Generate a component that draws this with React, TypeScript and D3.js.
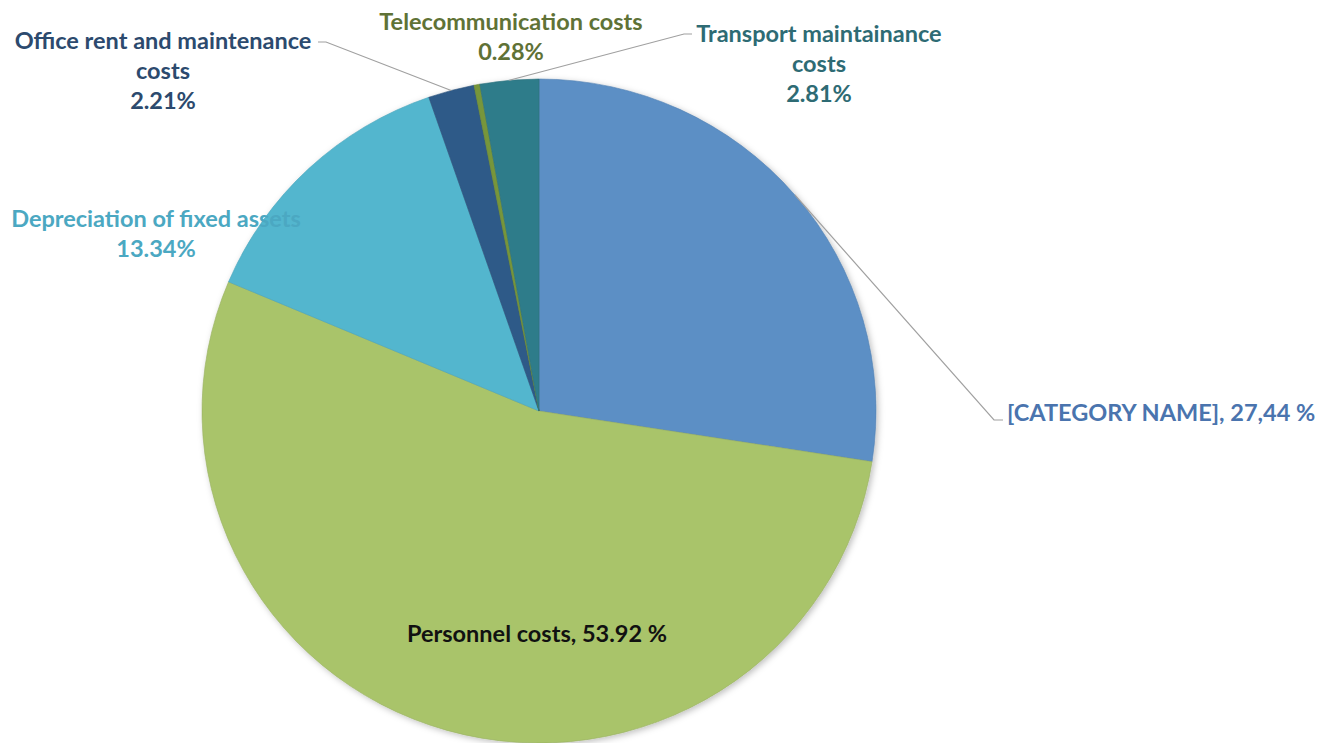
import React, { useEffect } from "react";
import * as d3 from "d3";

// slice data, clockwise from 12 o'clock
const categories = [
  "[CATEGORY NAME]",
  "Personnel costs",
  "Depreciation of fixed assets",
  "Office rent and maintenance costs",
  "Telecommunication costs",
  "Transport maintainance costs",
];
const shares = [27.44, 53.92, 13.34, 2.21, 0.28, 2.81];
const shareLabels = ["27,44 %", "53.92 %", "13.34%", "2.21%", "0.28%", "2.81%"];

const sliceColors = ["#5B8FC5", "#A9C46B", "#53B6CE", "#2F5A88", "#77963A", "#2F7C8A"];
const textColors = ["#4A74AE", "#111111", "#4BA8C2", "#2C4A6E", "#5F7236", "#2E6B74"];

const W = 1327;
const H = 743;
const cx = 539;
const cy = 411;
const rx = 337;
const ry = 332;

// label blocks: lines of text, anchor x, first baseline, optional leader end
type LabelSpec = { lines: string[]; x: number; y: number; anchor: string; leader?: [number, number][] };

const labelSpecs = (): LabelSpec[] => [
  {
    lines: [categories[0] + ", " + shareLabels[0]],
    x: 1007,
    y: 421,
    anchor: "start",
    leader: [[1003, 420], [994, 420]],
  },
  { lines: [categories[1] + ", " + shareLabels[1]], x: 537, y: 642, anchor: "middle" },
  { lines: ["Depreciation of fixed assets", shareLabels[2]], x: 156, y: 227, anchor: "middle" },
  {
    lines: ["Office rent and maintenance", "costs", shareLabels[3]],
    x: 163,
    y: 49,
    anchor: "middle",
    leader: [[318, 42], [326, 42]],
  },
  { lines: ["Telecommunication costs", shareLabels[4]], x: 511, y: 30, anchor: "middle" },
  {
    lines: ["Transport maintainance", "costs", shareLabels[5]],
    x: 819,
    y: 42,
    anchor: "middle",
    leader: [[692, 34], [684, 34]],
  },
];

const App = () => {
  useEffect(() => {
    document.body.style.margin = "0";
  }, []);

  const pie = d3.pie<number>().sort(null).value((d) => d);
  const arcs = pie(shares);
  const arc = d3.arc<d3.PieArcDatum<number>>().innerRadius(0).outerRadius(rx);
  const specs = labelSpecs();

  // point on the (slightly squashed) pie edge at a slice's mid angle
  const edgePoint = (a: d3.PieArcDatum<number>) => {
    const m = (a.startAngle + a.endAngle) / 2;
    return [cx + rx * Math.sin(m), cy - ry * Math.cos(m)];
  };

  return (
    <svg width={W} height={H} style={{ display: "block", background: "#fff" }}>
      <defs>
        <filter id="shadow" x="-10%" y="-10%" width="120%" height="120%">
          <feDropShadow dx="2" dy="2" stdDeviation="3" floodColor="#000" floodOpacity="0.25" />
        </filter>
      </defs>

      <g transform={`translate(${cx},${cy}) scale(1,${ry / rx})`} filter="url(#shadow)">
        {arcs.map((a, i) => (
          <path key={i} d={arc(a) || ""} fill={sliceColors[i]} stroke={d3.color(sliceColors[i])!.darker(0.3).toString()} strokeWidth={0.6} />
        ))}
      </g>

      {/* leader lines */}
      {specs.map((s, i) => {
        if (!s.leader) return null;
        const p = edgePoint(arcs[i]);
        const pts = [...s.leader, p] as [number, number][];
        return (
          <path
            key={"l" + i}
            d={d3.line()(pts) || ""}
            fill="none"
            stroke="#A0A0A0"
            strokeWidth={1.2}
          />
        );
      })}

      {specs.map((s, i) => (
        <text
          key={"t" + i}
          x={s.x}
          y={s.y}
          textAnchor={s.anchor}
          fill={textColors[i]}
          fontFamily="Lato, 'Open Sans', sans-serif"
          fontWeight="bold"
          fontSize={23.5}
        >
          {s.lines.map((ln, j) => (
            <tspan key={j} x={s.x} dy={j === 0 ? 0 : 30}>
              {ln}
            </tspan>
          ))}
        </text>
      ))}
    </svg>
  );
};

export default App;
